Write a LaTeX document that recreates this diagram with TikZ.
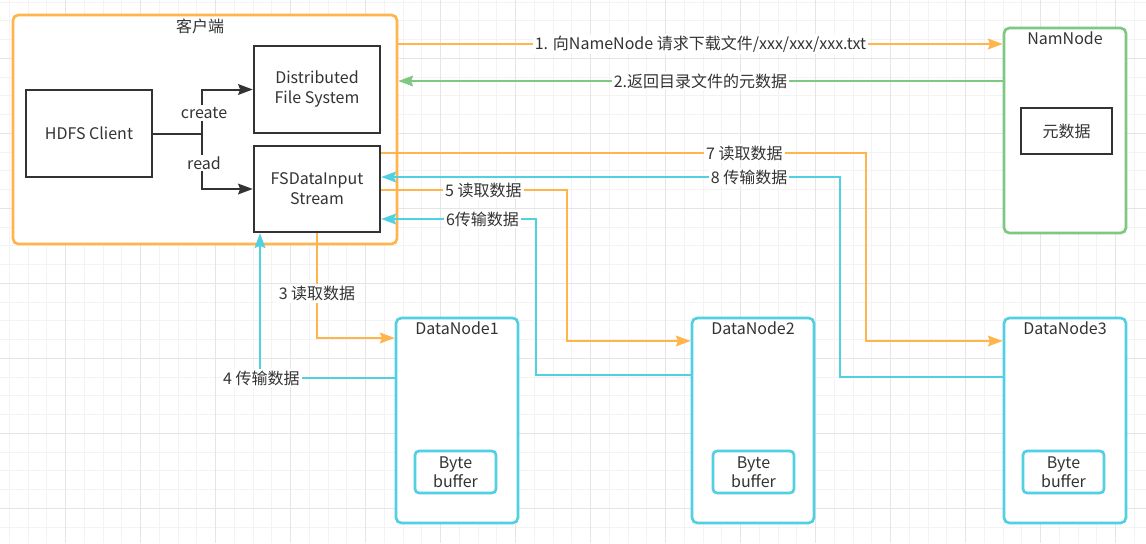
\documentclass[tikz,border=0pt]{standalone}
\usepackage{fontspec}
\setmainfont{Noto Sans CJK SC}
\usetikzlibrary{arrows.meta,calc}
\definecolor{orng}{RGB}{255,181,76}
\definecolor{grn}{RGB}{126,200,130}
\definecolor{cyn}{RGB}{80,208,225}
\definecolor{dark}{RGB}{51,51,51}
\definecolor{gminor}{RGB}{243,243,243}
\definecolor{gmajor}{RGB}{229,229,229}
\begin{document}
\begin{tikzpicture}[x=0.75pt,y=-0.75pt,
  every node/.style={font=\fontsize{12}{15}\selectfont, text=dark, inner sep=1pt},
  darkbox/.style={draw=dark, line width=1.8pt, fill=white, align=center},
  obox/.style={draw=orng, line width=2pt, rounded corners=4pt, fill=white},
  gbox/.style={draw=grn, line width=2pt, rounded corners=4pt, fill=white},
  cbox/.style={draw=cyn, line width=2pt, rounded corners=4pt, fill=white},
  bufbox/.style={draw=cyn, line width=2pt, rounded corners=3pt, fill=white, align=center, font=\fontsize{12}{14.5}\selectfont},
  tip/.style={-{Stealth[length=11pt,width=8pt,inset=1.5pt]}},
  oline/.style={draw=orng, line width=1.5pt},
  gline/.style={draw=grn, line width=1.5pt},
  cline/.style={draw=cyn, line width=1.5pt},
  kline/.style={draw=dark, line width=1.5pt},
  lbl/.style={fill=white, inner sep=1.5pt}
]
\useasboundingbox (0,0) rectangle (1146,543);
\fill[white] (0,0) rectangle (1146,543);
% grid
\foreach \i in {0,...,60} {
  \draw[gminor, line width=0.75pt] ({9.45+18.75*\i},0) -- ({9.45+18.75*\i},543);
}
\foreach \j in {0,...,28} {
  \draw[gminor, line width=0.75pt] (0,{2.05+18.75*\j}) -- (1146,{2.05+18.75*\j});
}
\foreach \i in {0,...,15} {
  \draw[gmajor, line width=0.75pt] ({65.7+75*\i},0) -- ({65.7+75*\i},543);
}
\foreach \j in {0,...,7} {
  \draw[gmajor, line width=0.75pt] (0,{58.3+75*\j}) -- (1146,{58.3+75*\j});
}

% client container
\node[obox, minimum width=288pt, minimum height=171.75pt] (client) at (205,129.5) {};
\node (clientlbl) at (200,26) {客户端};
\node[darkbox, minimum width=94.5pt, minimum height=65.25pt] (hdfs) at (89,133.5) {HDFS Client};
\node[darkbox, minimum width=94.5pt, minimum height=65.25pt] (dfs) at (317,89.5) {Distributed\\File System};
\node[darkbox, minimum width=94.5pt, minimum height=64.5pt] (fs) at (317,189) {FSDataInput\\Stream};

% NameNode
\node[gbox, minimum width=91.5pt, minimum height=153.75pt] (nam) at (1065,130.5) {};
\node (namlbl) at (1065,38) {NamNode};
\node[darkbox, minimum width=68.25pt, minimum height=34.5pt] (meta) at (1066.5,131) {元数据};

% DataNodes
\node[cbox, minimum width=91.5pt, minimum height=153.75pt] (dn1) at (457,420.5) {};
\node (dn1lbl) at (457,328) {DataNode1};
\node[bufbox, minimum width=60.75pt, minimum height=31.5pt] (bb1) at (455.5,472) {Byte\\buffer};
\node[cbox, minimum width=91.5pt, minimum height=153.75pt] (dn2) at (753,420.5) {};
\node (dn2lbl) at (753,328) {DataNode2};
\node[bufbox, minimum width=60.75pt, minimum height=31.5pt] (bb2) at (753.5,472) {Byte\\buffer};
\node[cbox, minimum width=91.5pt, minimum height=153.75pt] (dn3) at (1065,420.5) {};
\node (dn3lbl) at (1065,328) {DataNode3};
\node[bufbox, minimum width=60.75pt, minimum height=31.5pt] (bb3) at (1063.5,472) {Byte\\buffer};

% HDFS client connectors
\coordinate (split) at (202,133.5);
\draw[kline] (hdfs.east) -- (split);
\draw[kline,tip] (split) |- (dfs.west);
\draw[kline,tip] (split) |- (fs.west);
\node[lbl] (create) at (204,113) {create};
\node[lbl] (read) at (204,163) {read};

% 1 and 2
\draw[oline,tip] (client.east |- 0,44) -- node[lbl]{1. 向NameNode 请求下载文件/xxx/xxx/xxx.txt} (nam.west |- 0,44);
\draw[gline,tip] (nam.west |- 0,81) -- node[lbl]{2.返回目录文件的元数据} (client.east |- 0,81);

% 7 and 8
\draw[oline,tip] (fs.east |- 0,153) -- node[lbl,pos=0.749]{7 读取数据} (866,153) |- (dn3.west |- 0,341);
\draw[cline,tip] (dn3.west |- 0,377) -- (840,377) -- (840,177) -- node[lbl,pos=0.198]{8 传输数据} (fs.east |- 0,177);

% 5 and 6
\draw[oline,tip] (fs.east |- 0,190) -- node[lbl,pos=0.55]{5 读取数据} (567,190) |- (dn2.west |- 0,341);
\draw[cline,tip] (dn2.west |- 0,375) -- (536,375) -- (536,219) -- node[lbl,pos=0.346]{6传输数据} (fs.east |- 0,219);

% 3 and 4
\draw[oline,tip] (fs.south) -- node[lbl,pos=0.575]{3 读取数据} (317,338) -- (dn1.west |- 0,338);
\draw[cline,tip] (dn1.west |- 0,378) -- node[lbl,pos=0.99]{4 传输数据} (260,378) -- (fs.south -| 260,0);
\end{tikzpicture}
\end{document}
